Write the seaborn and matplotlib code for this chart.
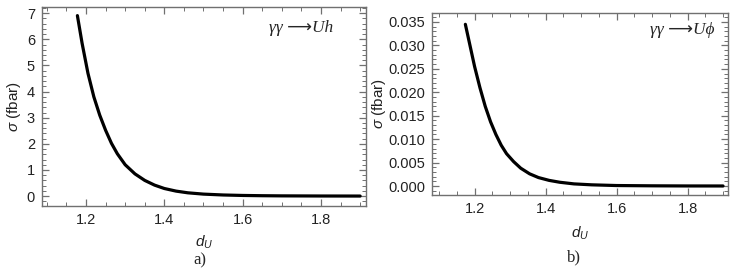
import matplotlib
matplotlib.use("Agg")
import matplotlib.pyplot as plt
from matplotlib.ticker import MultipleLocator, FormatStrFormatter
import seaborn as sns
import pandas as pd

# values
d_uh = [1.178, 1.19, 1.205, 1.22, 1.235, 1.25, 1.265, 1.28, 1.30, 1.325, 1.35, 1.375,
        1.40, 1.43, 1.46, 1.50, 1.55, 1.60, 1.65, 1.70, 1.80, 1.90]
sigma_uh = [6.91, 5.85, 4.7, 3.8, 3.1, 2.52, 2.02, 1.62, 1.2, 0.85, 0.6, 0.42,
            0.29, 0.19, 0.125, 0.075, 0.042, 0.024, 0.014, 0.008, 0.003, 0.001]

d_uphi = [1.174, 1.187, 1.20, 1.215, 1.23, 1.245, 1.26, 1.275, 1.29, 1.31, 1.33,
          1.355, 1.38, 1.41, 1.44, 1.48, 1.53, 1.60, 1.70, 1.80, 1.90]
sigma_uphi = [0.0345, 0.0300, 0.0255, 0.0210, 0.0170, 0.0137, 0.0110, 0.0087, 0.0069,
              0.0052, 0.0038, 0.0026, 0.0018, 0.0012, 0.0008, 0.00045, 0.00025,
              0.0001, 0.00004, 0.00001, 0.000005]

sns.set_style("white")
plt.rcParams['font.family'] = ['Liberation Sans', 'DejaVu Sans']
plt.rcParams['mathtext.fontset'] = 'custom'
plt.rcParams['mathtext.it'] = 'Liberation Sans:italic'
plt.rcParams['mathtext.rm'] = 'Liberation Sans'

frame_col = '#707070'
serif = ['Liberation Serif', 'DejaVu Sans']

fig = plt.figure(figsize=(7.47, 2.73), dpi=100)
ax1 = fig.add_axes([42 / 747, 1 - 206 / 273, 324 / 747, 199 / 273])
ax2 = fig.add_axes([432 / 747, 1 - 195 / 273, 296 / 747, 182.3 / 273])

df1 = pd.DataFrame({'d': d_uh, 'sigma': sigma_uh})
df2 = pd.DataFrame({'d': d_uphi, 'sigma': sigma_uphi})
sns.lineplot(data=df1, x='d', y='sigma', ax=ax1, color='black', lw=2.3, estimator=None)
sns.lineplot(data=df2, x='d', y='sigma', ax=ax2, color='black', lw=2.3, estimator=None)

ax1.set_xlim(1.0876, 1.915)
ax1.set_ylim(-0.38, 7.24)
ax2.set_xlim(1.080, 1.914)
ax2.set_ylim(-0.00192, 0.03698)

ax1.yaxis.set_major_locator(MultipleLocator(1))
ax1.yaxis.set_minor_locator(MultipleLocator(0.2))
ax2.yaxis.set_major_locator(MultipleLocator(0.005))
ax2.yaxis.set_minor_locator(MultipleLocator(0.001))
ax2.yaxis.set_major_formatter(FormatStrFormatter('%.3f'))

for ax in (ax1, ax2):
    ax.xaxis.set_major_locator(MultipleLocator(0.2))
    ax.xaxis.set_minor_locator(MultipleLocator(0.05))
    ax.xaxis.set_major_formatter(FormatStrFormatter('%.1f'))
    for s in ax.spines.values():
        s.set_visible(True)
        s.set_color(frame_col)
        s.set_linewidth(1.0)
    ax.tick_params(which='both', direction='in', bottom=True, left=True, top=True,
                   right=True, color=frame_col, labelsize=10.5, labelcolor='#222222')
    ax.tick_params(which='major', length=5, width=0.9, pad=5)
    ax.tick_params(which='minor', length=3, width=0.7)
    ax.set_xlabel(r'$d_U$', fontsize=11, color='#222222')

ax1.xaxis.labelpad = 5
ax2.xaxis.labelpad = 6
ax1.set_ylabel(r'$\sigma$ (fbar)', fontsize=11, color='#222222', labelpad=3)
ax2.set_ylabel(r'$\sigma$ (fbar)', fontsize=11, color='#222222', labelpad=0)

ax1.text(0.80, 0.894, 'γγ ⟶Uh', transform=ax1.transAxes, ha='center', va='center',
         fontsize=12.5, fontstyle='italic', family=serif)
ax2.text(0.845, 0.905, 'γγ ⟶Uϕ', transform=ax2.transAxes, ha='center', va='center',
         fontsize=12.5, fontstyle='italic', family=serif)

fig.text(200 / 747, 1 - 260 / 273, 'a)', ha='center', va='center', fontsize=12,
         family=serif)
fig.text(574 / 747, 1 - 257 / 273, 'b)', ha='center', va='center', fontsize=12,
         family=serif)

fig.savefig('out.png', dpi=100)
